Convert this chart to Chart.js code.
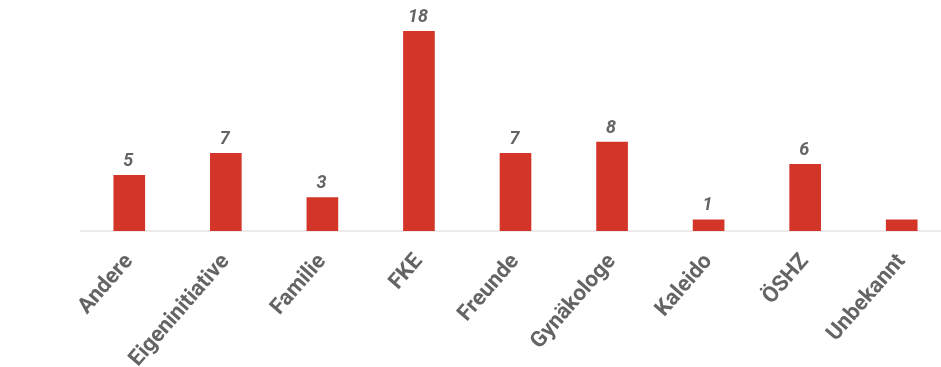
<!DOCTYPE html>
<html>
<head>
<meta charset="utf-8">
<script src="https://cdn.jsdelivr.net/npm/chart.js@4/dist/chart.umd.min.js"></script>
<style>
  html, body { margin: 0; padding: 0; background: #fff; }
  #wrap { width: 941px; height: 367px; overflow: hidden; position: relative; }
  #c { position: absolute; left: 0; top: 0; }
</style>
</head>
<body>
<div id="wrap"><canvas id="c" width="952" height="367"></canvas></div>
<script>
const categories = ["Andere", "Eigeninitiative", "Familie", "FKE", "Freunde", "Gynäkologe", "Kaleido", "ÖSHZ", "Unbekannt"];
const counts = [5, 7, 3, 18, 7, 8, 1, 6, 1];
const valueLabels = ["5", "7", "3", "18", "7", "8", "1", "6", ""];

const valueLabelPlugin = {
  id: 'valueLabels',
  afterDatasetsDraw(chart) {
    const ctx = chart.ctx;
    const meta = chart.getDatasetMeta(0);
    ctx.save();
    ctx.font = 'italic bold 18px Roboto';
    ctx.fillStyle = '#646464';
    ctx.textAlign = 'center';
    ctx.textBaseline = 'bottom';
    meta.data.forEach((bar, i) => {
      const t = valueLabels[i];
      if (t) ctx.fillText(t, bar.x - 1, bar.y - 5);
    });
    ctx.restore();
  }
};

new Chart(document.getElementById('c'), {
  type: 'bar',
  data: {
    labels: categories,
    datasets: [{
      data: counts,
      backgroundColor: '#d33628',
      barThickness: 31
    }]
  },
  options: {
    responsive: false,
    animation: false,
    layout: { padding: { left: 81, right: 2, top: 31, bottom: 0 } },
    plugins: { legend: { display: false }, tooltip: { enabled: false } },
    scales: {
      x: {
        grid: { display: false, drawTicks: false },
        border: { display: true, color: '#eeeaea', width: 2 },
        ticks: {
          color: '#646464',
          font: { family: 'Roboto', weight: 'bold', size: 22 },
          minRotation: 49,
          maxRotation: 49,
          padding: 18,
          autoSkip: false
        },
        afterFit(scale) { scale.height = 136; }
      },
      y: {
        display: false,
        min: 0,
        max: 18
      }
    }
  },
  plugins: [valueLabelPlugin]
});
</script>
</body>
</html>
